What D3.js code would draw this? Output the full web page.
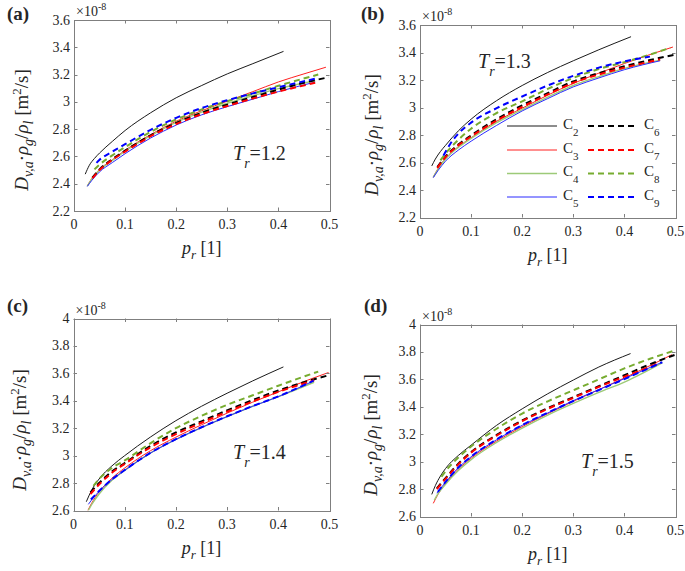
<!DOCTYPE html>
<html><head><meta charset="utf-8">
<script src="https://cdn.jsdelivr.net/npm/d3@7"></script>
<style>
body{margin:0;background:#fff}
svg{display:block}
text{font-family:"Liberation Serif","Times New Roman",serif;fill:#262626}
</style>
</head><body><svg id="chart" width="685" height="571"></svg>
<script>
// ---------- data (p_r, D·ρg/ρl ×1e-8) ----------
const a_C2 = [[0.022,2.47],[0.03,2.535],[0.04,2.585],[0.05,2.625],[0.075,2.71],[0.1,2.79],[0.15,2.92],[0.2,3.03],[0.25,3.12],[0.3,3.205],[0.35,3.28],[0.41,3.37]];
const a_C3 = [[0.026,2.383],[0.035,2.44],[0.05,2.505],[0.075,2.575],[0.1,2.645],[0.15,2.76],[0.2,2.858],[0.25,2.935],[0.3,3.005],[0.35,3.075],[0.4,3.146],[0.45,3.205],[0.493,3.254]];
const a_C4 = [[0.026,2.383],[0.035,2.435],[0.05,2.5],[0.075,2.57],[0.1,2.638],[0.15,2.752],[0.2,2.85],[0.25,2.925],[0.3,2.99],[0.35,3.045],[0.4,3.097],[0.472,3.155]];
const a_C5 = [[0.026,2.38],[0.035,2.425],[0.05,2.487],[0.075,2.555],[0.1,2.62],[0.15,2.735],[0.2,2.83],[0.25,2.905],[0.3,2.965],[0.35,3.02],[0.4,3.075],[0.472,3.145]];
const a_C6 = [[0.036,2.444],[0.05,2.505],[0.075,2.58],[0.1,2.642],[0.15,2.755],[0.2,2.846],[0.25,2.92],[0.3,2.98],[0.35,3.035],[0.4,3.09],[0.45,3.14],[0.498,3.18]];
const a_C7 = [[0.036,2.44],[0.05,2.5],[0.075,2.575],[0.1,2.635],[0.15,2.748],[0.2,2.838],[0.25,2.91],[0.3,2.97],[0.35,3.025],[0.4,3.075],[0.472,3.14]];
const a_C8 = [[0.04,2.505],[0.05,2.54],[0.075,2.608],[0.1,2.668],[0.15,2.78],[0.2,2.871],[0.25,2.945],[0.3,3.005],[0.35,3.06],[0.4,3.118],[0.478,3.2]];
const a_C9 = [[0.044,2.553],[0.05,2.575],[0.075,2.635],[0.1,2.69],[0.15,2.795],[0.2,2.883],[0.25,2.955],[0.3,3.012],[0.35,3.062],[0.4,3.107],[0.472,3.17]];

const b_C2 = [[0.023,2.575],[0.03,2.625],[0.04,2.68],[0.05,2.725],[0.075,2.83],[0.1,2.915],[0.15,3.05],[0.2,3.16],[0.25,3.255],[0.3,3.34],[0.35,3.42],[0.413,3.515]];
const b_C3 = [[0.026,2.493],[0.035,2.555],[0.05,2.63],[0.075,2.715],[0.1,2.78],[0.15,2.9],[0.2,2.995],[0.25,3.09],[0.3,3.175],[0.35,3.25],[0.4,3.32],[0.45,3.385],[0.495,3.44]];
const b_C4 = [[0.026,2.493],[0.035,2.55],[0.05,2.625],[0.075,2.71],[0.1,2.775],[0.15,2.89],[0.2,2.985],[0.25,3.075],[0.3,3.16],[0.35,3.225],[0.4,3.285],[0.47,3.345]];
const b_C5 = [[0.026,2.49],[0.035,2.54],[0.05,2.61],[0.075,2.69],[0.1,2.755],[0.15,2.87],[0.2,2.975],[0.25,3.065],[0.3,3.15],[0.35,3.215],[0.4,3.275],[0.47,3.34]];
const b_C6 = [[0.034,2.567],[0.05,2.645],[0.075,2.73],[0.1,2.797],[0.15,2.915],[0.2,3.016],[0.25,3.105],[0.3,3.19],[0.35,3.25],[0.4,3.3],[0.45,3.345],[0.5,3.385]];
const b_C7 = [[0.034,2.56],[0.05,2.64],[0.075,2.725],[0.1,2.79],[0.15,2.905],[0.2,3.005],[0.25,3.095],[0.3,3.18],[0.35,3.24],[0.4,3.29],[0.47,3.35]];
const b_C8 = [[0.04,2.615],[0.05,2.665],[0.075,2.765],[0.1,2.846],[0.15,2.96],[0.2,3.045],[0.25,3.135],[0.3,3.215],[0.35,3.28],[0.4,3.33],[0.45,3.385],[0.49,3.435]];
const b_C9 = [[0.046,2.65],[0.06,2.74],[0.075,2.81],[0.1,2.89],[0.15,2.995],[0.2,3.08],[0.25,3.16],[0.3,3.23],[0.35,3.29],[0.4,3.335],[0.45,3.37]];

const c_C2 = [[0.025,2.664],[0.035,2.745],[0.05,2.83],[0.075,2.925],[0.1,3.0],[0.15,3.135],[0.2,3.255],[0.25,3.36],[0.3,3.455],[0.35,3.545],[0.41,3.647]];
const c_C3 = [[0.028,2.6],[0.035,2.65],[0.05,2.735],[0.075,2.835],[0.1,2.91],[0.15,3.035],[0.2,3.135],[0.25,3.225],[0.3,3.31],[0.35,3.39],[0.4,3.465],[0.45,3.54],[0.498,3.606]];
const c_C4 = [[0.029,2.6],[0.035,2.64],[0.05,2.72],[0.075,2.82],[0.1,2.893],[0.15,3.018],[0.2,3.118],[0.25,3.205],[0.3,3.285],[0.35,3.36],[0.4,3.43],[0.47,3.535]];
const c_C5 = [[0.029,2.645],[0.035,2.675],[0.05,2.74],[0.075,2.825],[0.1,2.893],[0.15,3.018],[0.2,3.118],[0.25,3.205],[0.3,3.285],[0.35,3.36],[0.4,3.43],[0.469,3.545]];
const c_C6 = [[0.033,2.732],[0.05,2.8],[0.075,2.885],[0.1,2.946],[0.15,3.07],[0.2,3.169],[0.25,3.25],[0.3,3.33],[0.35,3.405],[0.4,3.475],[0.45,3.535],[0.498,3.586]];
const c_C7 = [[0.033,2.72],[0.05,2.79],[0.075,2.875],[0.1,2.94],[0.15,3.06],[0.2,3.157],[0.25,3.24],[0.3,3.32],[0.35,3.395],[0.4,3.465],[0.47,3.55]];
const c_C8 = [[0.039,2.78],[0.05,2.83],[0.075,2.91],[0.1,2.965],[0.15,3.09],[0.2,3.2],[0.25,3.29],[0.3,3.37],[0.35,3.44],[0.4,3.51],[0.478,3.613]];
const c_C9 = [[0.034,2.68],[0.05,2.742],[0.075,2.827],[0.1,2.895],[0.15,3.02],[0.2,3.12],[0.25,3.207],[0.3,3.287],[0.35,3.362],[0.4,3.432],[0.469,3.547]];

const d_C2 = [[0.023,2.761],[0.03,2.825],[0.04,2.895],[0.05,2.95],[0.075,3.045],[0.1,3.12],[0.15,3.265],[0.2,3.385],[0.25,3.495],[0.3,3.595],[0.35,3.69],[0.412,3.788]];
const d_C3 = [[0.026,2.696],[0.035,2.76],[0.05,2.84],[0.075,2.945],[0.1,3.025],[0.15,3.15],[0.2,3.255],[0.25,3.35],[0.3,3.44],[0.35,3.525],[0.4,3.61],[0.45,3.7],[0.493,3.78]];
const d_C4 = [[0.028,2.72],[0.035,2.765],[0.05,2.835],[0.075,2.935],[0.1,3.015],[0.15,3.14],[0.2,3.245],[0.25,3.34],[0.3,3.425],[0.35,3.505],[0.4,3.58],[0.474,3.72]];
const d_C5 = [[0.033,2.77],[0.05,2.85],[0.075,2.955],[0.1,3.035],[0.15,3.16],[0.2,3.265],[0.25,3.355],[0.3,3.445],[0.35,3.525],[0.4,3.605],[0.474,3.725]];
const d_C6 = [[0.033,2.805],[0.05,2.88],[0.075,2.985],[0.1,3.07],[0.15,3.195],[0.2,3.3],[0.25,3.39],[0.3,3.47],[0.35,3.55],[0.4,3.63],[0.45,3.71],[0.5,3.78]];
const d_C7 = [[0.033,2.8],[0.05,2.875],[0.075,2.98],[0.1,3.065],[0.15,3.19],[0.2,3.295],[0.25,3.385],[0.3,3.465],[0.35,3.545],[0.4,3.62],[0.47,3.72]];
const d_C8 = [[0.042,2.89],[0.05,2.93],[0.075,3.03],[0.1,3.11],[0.15,3.24],[0.2,3.351],[0.25,3.44],[0.3,3.52],[0.35,3.6],[0.4,3.68],[0.45,3.75],[0.5,3.812]];
const d_C9 = [[0.035,2.78],[0.05,2.852],[0.075,2.957],[0.1,3.037],[0.15,3.162],[0.2,3.267],[0.25,3.357],[0.3,3.442],[0.35,3.522],[0.4,3.602],[0.474,3.725]];

const seriesNames = ["2","3","4","5","6","7","8","9"];
const panelLabels = ["(a)","(b)","(c)","(d)"];
const TrValues = ["1.2","1.3","1.4","1.5"];
const xTicks = [0,0.1,0.2,0.3,0.4,0.5];
const yTicksAB = [2.2,2.4,2.6,2.8,3,3.2,3.4,3.6];
const yTicksCD = [2.6,2.8,3,3.2,3.4,3.6,3.8,4];
const panelSeries = [
  [a_C2,a_C3,a_C4,a_C5,a_C6,a_C7,a_C8,a_C9],
  [b_C2,b_C3,b_C4,b_C5,b_C6,b_C7,b_C8,b_C9],
  [c_C2,c_C3,c_C4,c_C5,c_C6,c_C7,c_C8,c_C9],
  [d_C2,d_C3,d_C4,d_C5,d_C6,d_C7,d_C8,d_C9]
];
const panelYTicks = [yTicksAB,yTicksAB,yTicksCD,yTicksCD];

// ---------- styles / layout ----------
const sColor = ["#1a1a1a","#ff2020","#9dca78","#2a2aff","#000000","#ff0000","#77ac30","#0000ff"];
const sWidth = [1,1,1.4,1,2,2,2,2];
const sDash  = [null,null,null,null,"6,4","6,4","6,4","6,4"];
const boxes = [
  {l:74,  r:329.5, t:20,    b:211,   ylx:28,  yly:130, trx:233, try_:160},
  {l:420, r:675.5, t:25,    b:217.5, ylx:378, yly:135, trx:478, try_:68},
  {l:73.5,r:329.5, t:318.5, b:510.5, ylx:26,  yly:430, trx:233, try_:459},
  {l:420, r:675.5, t:324.5, b:516.5, ylx:377, yly:435, trx:581, try_:468}
];
const labelPos = [[7,20],[361,20],[7,312],[364,312]];

const svg = d3.select("#chart");
const fmt = d => String(+d.toFixed(1));

boxes.forEach((bx, i) => {
  const yt = panelYTicks[i];
  const x = d3.scaleLinear().domain([0,0.5]).range([bx.l,bx.r]);
  const y = d3.scaleLinear().domain([yt[0], yt[yt.length-1]]).range([bx.b,bx.t]);
  const g = svg.append("g");
  const cid = "clip"+i;
  svg.append("clipPath").attr("id",cid).append("rect")
    .attr("x",bx.l).attr("y",bx.t).attr("width",bx.r-bx.l).attr("height",bx.b-bx.t);

  // lines
  const line = d3.line().x(d=>x(d[0])).y(d=>y(d[1])).curve(d3.curveMonotoneX);
  const lg = g.append("g").attr("clip-path",`url(#${cid})`);
  panelSeries[i].forEach((s,k)=>{
    lg.append("path").attr("d",line(s)).attr("fill","none")
      .attr("stroke",sColor[k]).attr("stroke-width",sWidth[k])
      .attr("stroke-dasharray",sDash[k]);
  });

  // frame
  const fr = g.append("g").attr("stroke","#7f7f7f").attr("stroke-width",1).attr("fill","none");
  fr.append("rect").attr("x",Math.round(bx.l)+0.5).attr("y",Math.round(bx.t)+0.5)
    .attr("width",Math.round(bx.r)-Math.round(bx.l)).attr("height",Math.round(bx.b)-Math.round(bx.t));
  const tl = 3.5;
  xTicks.forEach(v=>{
    const px = Math.round(x(v))+0.5;
    fr.append("line").attr("x1",px).attr("x2",px).attr("y1",bx.b).attr("y2",bx.b-tl);
    fr.append("line").attr("x1",px).attr("x2",px).attr("y1",bx.t).attr("y2",bx.t+tl);
    g.append("text").attr("x",x(v)).attr("y",bx.b+18).attr("text-anchor","middle")
      .attr("font-size",14).text(fmt(v));
  });
  yt.forEach(v=>{
    const py = Math.round(y(v))+0.5;
    fr.append("line").attr("x1",bx.l).attr("x2",bx.l+tl).attr("y1",py).attr("y2",py);
    fr.append("line").attr("x1",bx.r).attr("x2",bx.r-tl).attr("y1",py).attr("y2",py);
    g.append("text").attr("x",bx.l-4).attr("y",y(v)+4.5).attr("text-anchor","end")
      .attr("font-size",14).text(fmt(v));
  });

  // exponent
  const ex = g.append("text").attr("x",bx.l+2).attr("y",bx.t-4).attr("font-size",14);
  ex.append("tspan").text("×10");
  ex.append("tspan").attr("font-size",10).attr("dy",-6).text("-8");

  // panel label
  g.append("text").attr("x",labelPos[i][0]).attr("y",labelPos[i][1])
    .attr("font-size",19).attr("font-weight","bold").attr("fill","#000").text(panelLabels[i]);

  // x label
  const xl = g.append("text").attr("x",(bx.l+bx.r)/2).attr("y",bx.b+43)
    .attr("text-anchor","middle").attr("font-size",18);
  xl.append("tspan").attr("font-style","italic").text("p");
  xl.append("tspan").attr("font-style","italic").attr("font-size",13).attr("dy",5).text("r");
  xl.append("tspan").attr("dy",-5).text(" [1]");

  // y label
  const yl = g.append("text").attr("transform",`translate(${bx.ylx},${bx.yly}) rotate(-90)`)
    .attr("text-anchor","middle").attr("font-size",19);
  yl.append("tspan").attr("font-style","italic").text("D");
  yl.append("tspan").attr("font-style","italic").attr("font-size",14).attr("dy",5).text("v,a");
  yl.append("tspan").attr("dy",-5).text("\u00B7");
  yl.append("tspan").attr("font-style","italic").text("ρ");
  yl.append("tspan").attr("font-style","italic").attr("font-size",14).attr("dy",5).text("g");
  yl.append("tspan").attr("dy",-5).text("/");
  yl.append("tspan").attr("font-style","italic").text("ρ");
  yl.append("tspan").attr("font-style","italic").attr("font-size",14).attr("dy",5).text("l");
  yl.append("tspan").attr("dy",-5).text(" [m");
  yl.append("tspan").attr("font-size",13).attr("dy",-7).text("2");
  yl.append("tspan").attr("dy",7).text("/s]");

  // Tr annotation
  const tr = g.append("text").attr("x",bx.trx).attr("y",bx.try_).attr("font-size",20).attr("fill","#000");
  tr.append("tspan").attr("font-style","italic").text("T");
  tr.append("tspan").attr("font-style","italic").attr("font-size",14).attr("dy",8).attr("dx",0).text("r");
  tr.append("tspan").attr("dy",-8).attr("dx",0).text("=" + TrValues[i]);

  // legend (panel b only)
  if (i === 1) {
    const rowsY = [126,150,173.5,197];
    const lgd = g.append("g");
    [0,1].forEach(col=>{
      const x0 = col===0 ? 507 : 588, x1 = x0+50, tx = x1+6;
      rowsY.forEach((ry,r)=>{
        const k = col*4 + r;
        lgd.append("line").attr("x1",x0).attr("x2",x1).attr("y1",ry).attr("y2",ry)
          .attr("stroke",sColor[k]).attr("stroke-width",sWidth[k]).attr("stroke-dasharray",sDash[k]);
        const t = lgd.append("text").attr("x",tx).attr("y",ry+2.5).attr("font-size",15);
        t.append("tspan").text("C");
        t.append("tspan").attr("font-size",11).attr("dy",7).text(seriesNames[k]);
      });
    });
  }
});
</script></body></html>
